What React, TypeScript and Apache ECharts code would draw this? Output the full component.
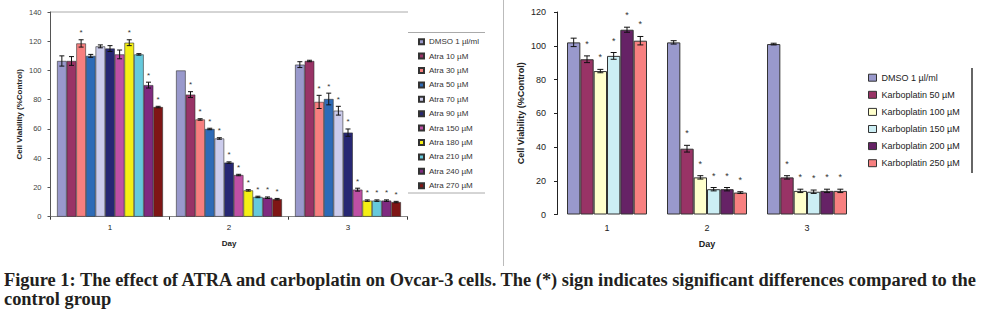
import React, { useEffect, useRef } from "react";
import * as echarts from "echarts";

const days = ["1", "2", "3"];

const atraNames = [
  "DMSO 1 µl/ml", "Atra 10 µM", "Atra 30 µM", "Atra 50 µM", "Atra 70 µM", "Atra 90 µM",
  "Atra 150 µM", "Atra 180 µM", "Atra 210 µM", "Atra 240 µM", "Atra 270 µM",
];
const atraColors = [
  "#9999cc", "#993366", "#f77f7f", "#2e6bb7", "#ccccec", "#272773",
  "#bf4fa5", "#f5ef14", "#66c9dc", "#7f2a80", "#7f1515",
];
const atraDay1 = [106.5, 106.5, 118.5, 110, 116.5, 115, 111, 119, 111, 90, 75];
const atraDay2 = [100, 83.5, 66.5, 60, 53.5, 37, 28.5, 18, 13.5, 13, 12];
const atraDay3 = [104, 106.5, 78.5, 80.5, 72.5, 57.5, 18.5, 11, 11, 11, 10];
const atraErr1 = [3.5, 3, 2.5, 1, 1, 2, 3, 2, 0.5, 2, 0.5];
const atraErr2 = [0, 2, 0.5, 0.5, 0.5, 0.5, 0.5, 0.5, 0.5, 0.5, 0.5];
const atraErr3 = [2, 0.5, 4.5, 4, 3, 2.5, 1, 0.5, 0.5, 0.5, 0.5];
const atraSig1 = [0, 0, 1, 0, 0, 0, 0, 1, 0, 1, 1];
const atraSig2 = [0, 1, 1, 1, 1, 1, 1, 1, 1, 1, 1];
const atraSig3 = [0, 0, 1, 1, 1, 1, 1, 1, 1, 1, 1];

const karboNames = [
  "DMSO 1 µl/ml", "Karboplatin 50 µM", "Karboplatin 100 µM",
  "Karboplatin 150 µM", "Karboplatin 200 µM", "Karboplatin 250 µM",
];
const karboColors = ["#9999cc", "#993366", "#ffffcc", "#cceef4", "#662266", "#f78080"];
const karboDay1 = [102, 92, 85, 94, 109.5, 103];
const karboDay2 = [102, 39, 22, 15, 15, 13];
const karboDay3 = [101, 22, 14, 13.5, 14, 14];
const karboErr1 = [2.5, 2, 1, 2, 1.5, 2.5];
const karboErr2 = [1, 2, 1, 1, 1, 0.5];
const karboErr3 = [0.5, 1, 1, 1, 1, 1];
const karboSig1 = [0, 1, 1, 1, 1, 1];
const karboSig2 = [0, 1, 1, 1, 1, 1];
const karboSig3 = [0, 1, 1, 1, 1, 1];

const captionLine1 =
  "Figure 1: The effect of ATRA and carboplatin on Ovcar-3 cells. The (*) sign indicates significant differences compared to the";
const captionLine2 = "control group";

const FONT = "'Liberation Sans', Arial, sans-serif";
const SERIF = "'Liberation Serif', 'Times New Roman', serif";

function errData(means: number[][], errs: number[][], sigs: number[][]) {
  const out: number[][] = [];
  for (let d = 0; d < means.length; d++) {
    for (let s = 0; s < means[d].length; s++) {
      out.push([d, s, means[d][s], errs[d][s], sigs[d][s]]);
    }
  }
  return out;
}

function makeErrRender(n: number, gap: number, cap: number, astOff: number, astSize: number) {
  return (params: any, api: any) => {
    const cat = api.value(0);
    const s = api.value(1);
    const mean = api.value(2);
    const err = api.value(3);
    const sig = api.value(4);
    const band = api.size([1, 0])[0];
    const groupW = band * (1 - gap);
    const bw = groupW / n;
    const center = api.coord([cat, 0])[0];
    const x = center - groupW / 2 + bw * (s + 0.5);
    const yTop = api.coord([cat, mean + err])[1];
    const yBot = api.coord([cat, mean - err])[1];
    const children: any[] = [];
    const st = { stroke: "#111", lineWidth: 1 };
    if (err > 0) {
      children.push({ type: "line", shape: { x1: x, y1: yTop, x2: x, y2: yBot }, style: st });
      children.push({ type: "line", shape: { x1: x - cap, y1: yTop, x2: x + cap, y2: yTop }, style: st });
      children.push({ type: "line", shape: { x1: x - cap, y1: yBot, x2: x + cap, y2: yBot }, style: st });
    }
    if (sig) {
      children.push({
        type: "text",
        style: {
          text: "*",
          x,
          y: yTop - astOff,
          align: "center",
          verticalAlign: "middle",
          textAlign: "center",
          textVerticalAlign: "middle",
          fontSize: astSize,
          fontFamily: FONT,
          fill: "#333",
        },
      });
    }
    return { type: "group", children };
  };
}

export default function App() {
  const ref = useRef<HTMLDivElement>(null);

  useEffect(() => {
    document.body.style.margin = "0";
    if (!ref.current) return;
    const chart = echarts.init(ref.current, undefined, { renderer: "svg" });

    const atraMeans = [atraDay1, atraDay2, atraDay3];
    const karboMeans = [karboDay1, karboDay2, karboDay3];

    const atraSeries = atraNames.map((name, i) => ({
      name,
      type: "bar",
      xAxisIndex: 0,
      yAxisIndex: 0,
      barGap: "0%",
      barCategoryGap: "11%",
      data: atraMeans.map((d) => d[i]),
      itemStyle: { color: atraColors[i], borderColor: "#333", borderWidth: 0.6 },
    }));
    const karboSeries = karboNames.map((name, i) => ({
      name,
      type: "bar",
      xAxisIndex: 1,
      yAxisIndex: 1,
      barGap: "0%",
      barCategoryGap: "20%",
      data: karboMeans.map((d) => d[i]),
      itemStyle: { color: karboColors[i], borderColor: "#333", borderWidth: 1 },
    }));

    const captionStyle = {
      fontSize: 18.4,
      fontWeight: "bold",
      fontFamily: SERIF,
      fill: "#231f20",
      verticalAlign: "middle",
    };

    const option: any = {
      animation: false,
      textStyle: { fontFamily: FONT },
      grid: [
        { left: 50.5, top: 12, width: 357, height: 204.7 },
        { left: 557, top: 12, width: 300, height: 202.5 },
      ],
      xAxis: [
        {
          type: "category",
          gridIndex: 0,
          data: days,
          name: "Day",
          nameLocation: "middle",
          nameGap: 23,
          nameTextStyle: { fontSize: 8, fontWeight: "bold", color: "#222" },
          axisLine: { lineStyle: { color: "#888" } },
          axisTick: { show: true, length: 3, lineStyle: { color: "#333" } },
          axisLabel: { fontSize: 8, color: "#222", margin: 7 },
        },
        {
          type: "category",
          gridIndex: 1,
          data: days,
          name: "Day",
          nameLocation: "middle",
          nameGap: 24.5,
          nameTextStyle: { fontSize: 9, fontWeight: "bold", color: "#222" },
          axisLine: { show: false },
          axisTick: { show: false },
          axisLabel: { fontSize: 9, color: "#222", margin: 9 },
        },
      ],
      yAxis: [
        {
          type: "value",
          gridIndex: 0,
          min: 0,
          max: 140,
          interval: 20,
          name: "Cell Viability (%Control)",
          nameLocation: "middle",
          nameGap: 27.5,
          nameTextStyle: { fontSize: 8, fontWeight: "bold", color: "#222" },
          axisLine: { show: true, lineStyle: { color: "#555" } },
          axisTick: { show: true, length: 3, lineStyle: { color: "#555" } },
          axisLabel: { fontSize: 7.5, color: "#444", margin: 9 },
          splitLine: { show: false },
        },
        {
          type: "value",
          gridIndex: 1,
          min: 0,
          max: 120,
          interval: 20,
          name: "Cell Viability (%Control)",
          nameLocation: "middle",
          nameGap: 31.5,
          nameTextStyle: { fontSize: 9, fontWeight: "bold", color: "#222" },
          axisLine: { show: true, lineStyle: { color: "#222" } },
          axisTick: { show: true, length: 3, lineStyle: { color: "#222" } },
          axisLabel: { fontSize: 9, color: "#222", margin: 11 },
          splitLine: { show: false },
        },
      ],
      legend: [
        {
          data: atraNames,
          orient: "vertical",
          left: 418,
          top: 37.7,
          itemWidth: 5,
          itemHeight: 5,
          itemGap: 6.4,
          icon: "rect",
          padding: 0,
          textStyle: { fontSize: 8, color: "#333", fontFamily: FONT },
        },
        {
          data: karboNames,
          orient: "vertical",
          left: 868,
          top: 73.2,
          itemWidth: 8,
          itemHeight: 7,
          itemGap: 8.1,
          icon: "rect",
          padding: 0,
          itemStyle: { borderColor: "#333", borderWidth: 1 },
          textStyle: { fontSize: 9, color: "#222", fontFamily: FONT },
        },
      ],
      series: [
        ...atraSeries,
        {
          type: "custom",
          xAxisIndex: 0,
          yAxisIndex: 0,
          z: 10,
          renderItem: makeErrRender(atraNames.length, 0.11, 2.5, 7, 8),
          data: errData(atraMeans, [atraErr1, atraErr2, atraErr3], [atraSig1, atraSig2, atraSig3]),
        },
        ...karboSeries,
        {
          type: "custom",
          xAxisIndex: 1,
          yAxisIndex: 1,
          z: 10,
          renderItem: makeErrRender(karboNames.length, 0.2, 3, 12, 9),
          data: errData(karboMeans, [karboErr1, karboErr2, karboErr3], [karboSig1, karboSig2, karboSig3]),
        },
      ],
      graphic: [
        { type: "line", shape: { x1: 50, y1: 12, x2: 408, y2: 12 }, style: { stroke: "#aaa", lineWidth: 1 } },
        { type: "line", shape: { x1: 408, y1: 32.5, x2: 485, y2: 32.5 }, style: { stroke: "#aaa", lineWidth: 1 } },
        { type: "line", shape: { x1: 408, y1: 193, x2: 485, y2: 193 }, style: { stroke: "#aaa", lineWidth: 1 } },
        { type: "line", shape: { x1: 503.5, y1: 0, x2: 503.5, y2: 266 }, style: { stroke: "#bbb", lineWidth: 1 } },
        { type: "line", shape: { x1: 972, y1: 68, x2: 972, y2: 173 }, style: { stroke: "#333", lineWidth: 1.5 } },
        { type: "text", x: 4, y: 279.5, style: { text: captionLine1, ...captionStyle } },
        { type: "text", x: 4, y: 298.8, style: { text: captionLine2, ...captionStyle } },
      ],
    };

    chart.setOption(option);
    return () => chart.dispose();
  }, []);

  return <div ref={ref} style={{ width: 982, height: 316 }} />;
}
